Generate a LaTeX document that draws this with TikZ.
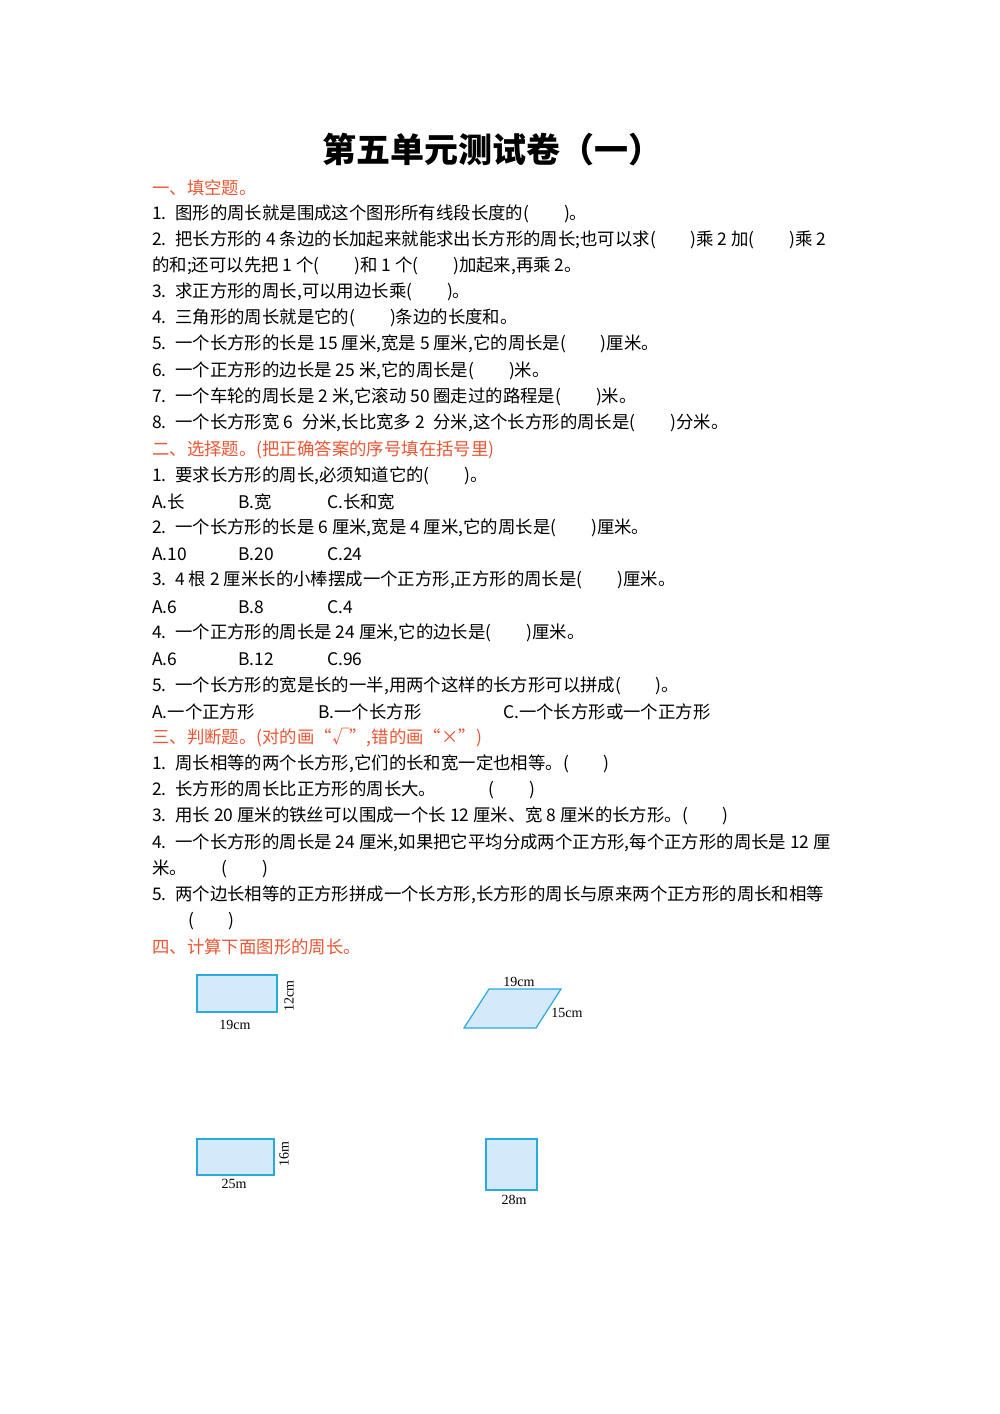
\documentclass[tikz,border=0pt]{standalone}
\usepackage{fontspec}
\setmainfont{Noto Sans CJK SC}
\newfontfamily\lab{Liberation Serif}
\definecolor{shfill}{RGB}{212,233,250}
\definecolor{shdraw}{RGB}{40,170,222}
\definecolor{hdred}{RGB}{235,85,50}
\newcommand{\bk}{(\qquad)}
\begin{document}
\begin{tikzpicture}[x=1pt,y=-1pt,
  ln/.style={anchor=west,inner sep=0pt,font=\fontsize{17.4}{19}\selectfont},
  hd/.style={ln,text=hdred},
  shp/.style={draw=shdraw,fill=shfill,line width=1.2pt},
  lb/.style={inner sep=0pt,font=\lab\fontsize{14}{15}\selectfont}]
\useasboundingbox (0,0) rectangle (1000,1414);
\node[inner sep=0pt,font=\fontsize{34}{40}\selectfont\bfseries] (title) at (492,150) {第五单元测试卷（一）};
\node[hd] (h1) at (152,188) {一、填空题。};
\node[ln] (a1) at (152,214) {1.\enspace 图形的周长就是围成这个图形所有线段长度的\bk。};
\node[ln] (a2) at (152,240) {2.\enspace 把长方形的 4 条边的长加起来就能求出长方形的周长;也可以求\bk 乘 2 加\bk 乘 2};
\node[ln] (a2b) at (152,266) {的和;还可以先把 1 个\bk 和 1 个\bk 加起来,再乘 2。};
\node[ln] (a3) at (152,292) {3.\enspace 求正方形的周长,可以用边长乘\bk。};
\node[ln] (a4) at (152,318) {4.\enspace 三角形的周长就是它的\bk 条边的长度和。};
\node[ln] (a5) at (152,344) {5.\enspace 一个长方形的长是 15 厘米,宽是 5 厘米,它的周长是\bk 厘米。};
\node[ln] (a6) at (152,371) {6.\enspace 一个正方形的边长是 25 米,它的周长是\bk 米。};
\node[ln] (a7) at (152,397) {7.\enspace 一个车轮的周长是 2 米,它滚动 50 圈走过的路程是\bk 米。};
\node[ln] (a8) at (152,423) {8.\enspace 一个长方形宽 6\enspace 分米,长比宽多 2\enspace 分米,这个长方形的周长是\bk 分米。};
\node[hd] (h2) at (152,450) {二、选择题。(把正确答案的序号填在括号里)};
\node[ln] (b1) at (152,476) {1.\enspace 要求长方形的周长,必须知道它的\bk。};
\node[ln] (b1a) at (152,502) {A.长}; \node[ln] (b1b) at (238,502) {B.宽}; \node[ln] (b1c) at (327,502) {C.长和宽};
\node[ln] (b2) at (152,528) {2.\enspace 一个长方形的长是 6 厘米,宽是 4 厘米,它的周长是\bk 厘米。};
\node[ln] (b2a) at (152,554) {A.10}; \node[ln] (b2b) at (238,554) {B.20}; \node[ln] (b2c) at (327,554) {C.24};
\node[ln] (b3) at (152,580) {3.\enspace 4 根 2 厘米长的小棒摆成一个正方形,正方形的周长是\bk 厘米。};
\node[ln] (b3a) at (152,607) {A.6}; \node[ln] (b3b) at (238,607) {B.8}; \node[ln] (b3c) at (327,607) {C.4};
\node[ln] (b4) at (152,633) {4.\enspace 一个正方形的周长是 24 厘米,它的边长是\bk 厘米。};
\node[ln] (b4a) at (152,659) {A.6}; \node[ln] (b4b) at (238,659) {B.12}; \node[ln] (b4c) at (327,659) {C.96};
\node[ln] (b5) at (152,686) {5.\enspace 一个长方形的宽是长的一半,用两个这样的长方形可以拼成\bk。};
\node[ln] (b5a) at (152,712) {A.一个正方形}; \node[ln] (b5b) at (318,712) {B.一个长方形}; \node[ln] (b5c) at (503,712) {C.一个长方形或一个正方形};
\node[hd] (h3) at (152,738) {三、判断题。(对的画“√”,错的画“×”)};
\node[ln] (c1) at (152,764) {1.\enspace 周长相等的两个长方形,它们的长和宽一定也相等。\bk};
\node[ln] (c2) at (152,790) {2.\enspace 长方形的周长比正方形的周长大。\qquad\quad\bk};
\node[ln] (c3) at (152,816) {3.\enspace 用长 20 厘米的铁丝可以围成一个长 12 厘米、宽 8 厘米的长方形。\bk};
\node[ln] (c4) at (152,843) {4.\enspace 一个长方形的周长是 24 厘米,如果把它平均分成两个正方形,每个正方形的周长是 12 厘};
\node[ln] (c4b) at (152,869) {米。\qquad\bk};
\node[ln] (c5) at (152,895) {5.\enspace 两个边长相等的正方形拼成一个长方形,长方形的周长与原来两个正方形的周长和相等};
\node[ln] (c5b) at (188,921) {\bk};
\node[hd] (h4) at (152,947) {四、计算下面图形的周长。};
% shapes
\draw[shp] (197,975) rectangle (277,1012);
\node[lb] (l1) at (235,1025) {19cm};
\node[lb,rotate=90] (l2) at (289,996) {12cm};
\draw[shp] (464,1028) -- (489,989) -- (561,989) -- (536,1028) -- cycle;
\node[lb] (l3) at (519,982) {19cm};
\node[lb] (l4) at (567,1013) {15cm};
\draw[shp] (197,1139) rectangle (274,1175);
\node[lb] (l5) at (234,1184) {25m};
\node[lb,rotate=90] (l6) at (284,1154) {16m};
\draw[shp] (486,1139) rectangle (537,1190);
\node[lb] (l7) at (514,1200) {28m};
\end{tikzpicture}
\end{document}
